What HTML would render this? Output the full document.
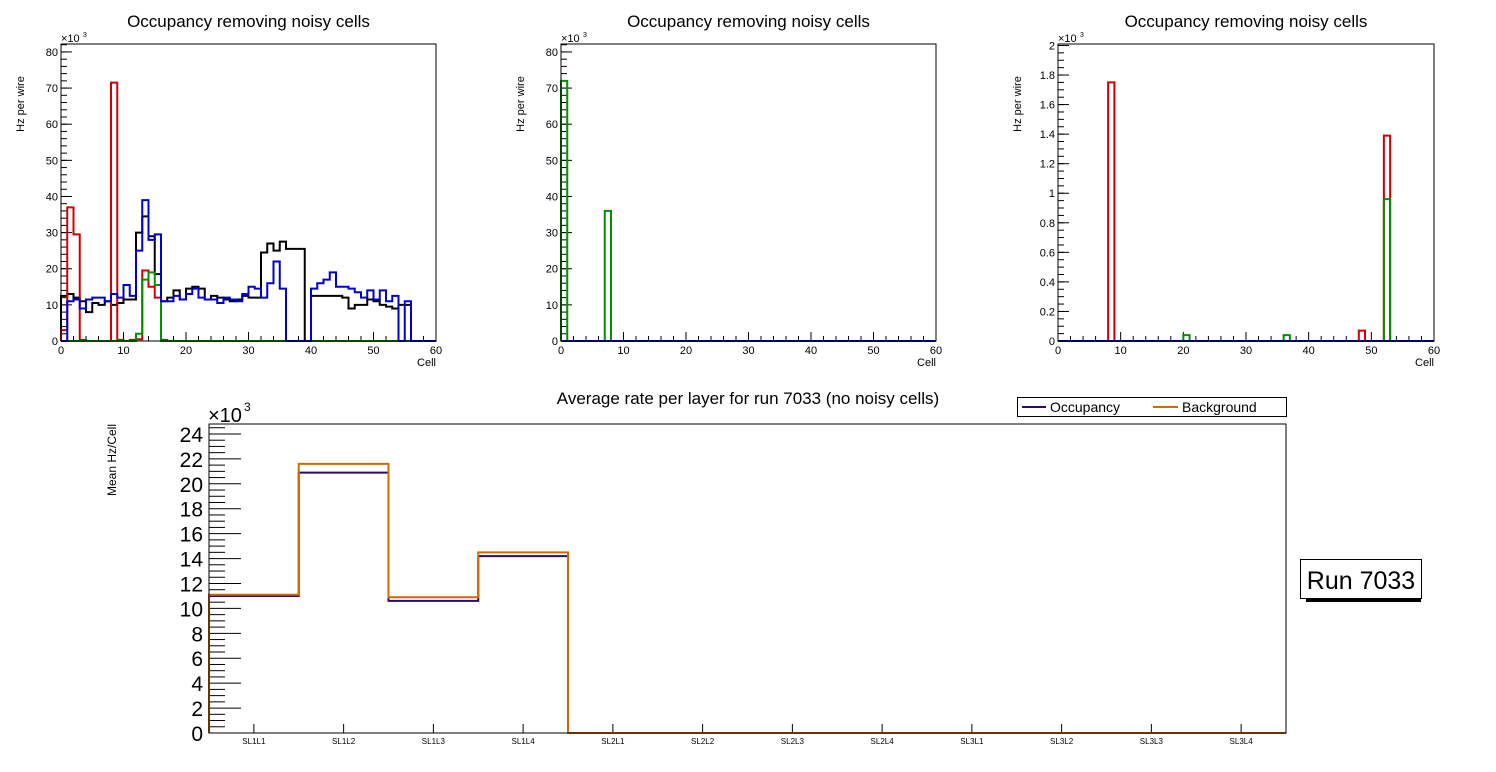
<!DOCTYPE html>
<html><head><meta charset="utf-8"><style>
body{margin:0;background:#fff;}
svg{display:block;font-family:"Liberation Sans",sans-serif;}
</style></head><body>
<svg id="c" width="1496" height="772"></svg>
<script>
// Panel 1 data (x10^3 Hz per wire), 60 cells
const p1Black=[12.5,13,12,11,8,10.5,10,11,10,10.5,11.5,11.5,30,34.5,29,18.5,11,12,14,11.5,14.5,15,14.5,11.5,12.5,12,11.5,11,11.5,12.5,12,12,24.5,27,25,27.5,25.5,25.5,25.5,0,12.5,12.5,12.5,12.5,12.5,12,9,10,10,11.5,11,10,9.5,9,10,10,0,0,0,0];
const p1Blue=[0,11,11.5,9,11.5,12,12,11,13,12,15.5,12.5,25,39,28,29.5,11,11,12.5,11.5,13,14.5,12,11.5,11.5,10.5,12,11.5,11,13,15,14.5,12,16,22,14.5,0,0,0,0,14.5,16,17,19,15,15,14.5,13.5,12,14,11.5,14,11,12.5,0,11,0,0,0,0];
const p1Red=[3,37,29.5,0.3,0,0,0,0,71.5,0.3,0,0.3,0.5,19.5,15,12,0.3,0,0,0,0,0,0,0,0,0,0,0,0,0,0,0,0,0,0,0,0,0,0,0,0,0,0,0,0,0,0,0,0,0,0,0,0,0,0,0,0,0,0,0];
const p1Green=[0,0,0,0,0,0,0,0,0,0,0,0,2,17,19,15.5,0,0,0,0,0,0,0,0,0,0,0,0,0,0,0,0,0,0,0,0,0,0,0,0,0,0,0,0,0,0,0,0,0,0,0,0,0,0,0,0,0,0,0,0];
// Panel 2 data
const p2Green=[72,0,0,0,0,0,0,36,0,0,0,0,0,0,0,0,0,0,0,0,0,0,0,0,0,0,0,0,0,0,0,0,0,0,0,0,0,0,0,0,0,0,0,0,0,0,0,0,0,0,0,0,0,0,0,0,0,0,0,0];
const p2Blue=new Array(60).fill(0);
// Panel 3 data
const p3Red=[0,0,0,0,0,0,0,0,1.75,0,0,0,0,0,0,0,0,0,0,0,0,0,0,0,0,0,0,0,0,0,0,0,0,0,0,0,0,0,0,0,0,0,0,0,0,0,0,0,0.07,0,0,0,1.39,0,0,0,0,0,0,0];
const p3Green=[0,0,0,0,0,0,0,0,0,0,0,0,0,0,0,0,0,0,0,0,0.04,0,0,0,0,0,0,0,0,0,0,0,0,0,0,0,0.04,0,0,0,0,0,0,0,0,0,0,0,0,0,0,0,0.96,0,0,0,0,0,0,0];
const p3Blue=new Array(60).fill(0);
const p1Ticks=[0,10,20,30,40,50,60,70,80];
const p3Ticks=[0,0.2,0.4,0.6,0.8,1,1.2,1.4,1.6,1.8,2];
const xTicks=[0,10,20,30,40,50,60];
// Bottom chart
const layers=["SL1L1","SL1L2","SL1L3","SL1L4","SL2L1","SL2L2","SL2L3","SL2L4","SL3L1","SL3L2","SL3L3","SL3L4"];
const occupancy=[11,20.9,10.6,14.2,0,0,0,0,0,0,0,0];
const background=[11.1,21.6,10.9,14.5,0,0,0,0,0,0,0,0];
const bTicks=[0,2,4,6,8,10,12,14,16,18,20,22,24];

const svg=document.getElementById('c');
const NS='http://www.w3.org/2000/svg';
function mk(tag,attrs,parent){const e=document.createElementNS(NS,tag);for(const k in attrs)e.setAttribute(k,attrs[k]);(parent||svg).appendChild(e);return e;}
function txt(s,attrs,parent){const e=mk('text',attrs,parent);e.textContent=s;return e;}

function stepPath(vals,sx,sy){
  let d='M'+sx(0)+','+sy(0);
  for(let i=0;i<vals.length;i++){d+=' L'+sx(i)+','+sy(vals[i])+' L'+sx(i+1)+','+sy(vals[i]);}
  d+=' L'+sx(vals.length)+','+sy(0);
  return d;
}

function panel(x0,x1,y0,y1,ymax,yTicks,minorStep,series,name,fmt){
  const g=mk('g',{});
  
  
  const sx=v=>x0+(x1-x0)*v/60;
  const sy=v=>y1-(y1-y0)*v/ymax;
  const t=txt('Occupancy removing noisy cells',{x:(x0+x1)/2,y:27,'font-size':17,'text-anchor':'middle'},g);
  
  const yl=txt('Hz per wire',{transform:`translate(${x0-37},${y0+60}) rotate(-90)`,'font-size':11,'text-anchor':'middle'},g);
  
  const xl=txt('Cell',{x:x1,y:366,'font-size':11,'text-anchor':'end'},g);
  
  const ex=txt('×10',{x:x0,y:y0-2,'font-size':11},g);
  
  txt('3',{x:x0+22,y:y0-7,'font-size':7},g);
  // ticks
  for(const v of yTicks){
    mk('line',{x1:x0,x2:x0+11,y1:sy(v),y2:sy(v),stroke:'#000'},g);
    const l=txt(fmt(v),{x:x0-3,y:sy(v)+4,'font-size':11,'text-anchor':'end'},g);
    
  }
  for(let v=0;v<=ymax;v+=minorStep){mk('line',{x1:x0,x2:x0+6,y1:sy(v),y2:sy(v),stroke:'#000'},g);}
  for(let v=0;v<=60;v+=2){mk('line',{x1:sx(v),x2:sx(v),y1:y1,y2:y1-(v%10==0?9:5),stroke:'#000'},g);}
  for(const v of xTicks){
    const l=txt(String(v),{x:sx(v),y:y1+13,'font-size':11,'text-anchor':'middle'},g);
    
  }
  for(const s of series){
    const p=mk('path',{d:stepPath(s.v,sx,sy),fill:'none',stroke:s.c,'stroke-width':2},g);
    
  }
  mk('rect',{x:x0,y:y0,width:x1-x0,height:y1-y0,fill:'none',stroke:'#000'},g);
}
const f1=v=>String(v);
panel(61,436,44,341,82.2,p1Ticks,2,[{v:p1Black,c:'#000',n:'black-series'},{v:p1Red,c:'#d00000',n:'red-series'},{v:p1Green,c:'#009000',n:'green-series'},{v:p1Blue,c:'#0000d0',n:'blue-series'}],'panel-1',f1);
panel(561,936,44,341,82.2,p1Ticks,2,[{v:p2Green,c:'#009000',n:'green-series'},{v:p2Blue,c:'#0000d0',n:'blue-series'}],'panel-2',f1);
panel(1058,1434,44,341,2.01,p3Ticks,0.05,[{v:p3Red,c:'#d00000',n:'red-series'},{v:p3Green,c:'#009000',n:'green-series'},{v:p3Blue,c:'#0000d0',n:'blue-series'}],'panel-3',f1);

// Bottom chart
(function(){
  const x0=209,x1=1286,y0=424,y1=733,ymax=24.8;
  const n=layers.length;
  const sx=i=>x0+(x1-x0)*i/n;
  const sy=v=>y1-(y1-y0)*v/ymax;
  const g=mk('g',{});
  
  
  const t=txt('Average rate per layer for run 7033 (no noisy cells)',{x:748,y:404,'font-size':17,'text-anchor':'middle'},g);
  
  const yl=txt('Mean Hz/Cell',{transform:`translate(116,460) rotate(-90)`,'font-size':12,'text-anchor':'middle'},g);
  
  txt('×10',{x:208,y:422,'font-size':20},g);
  txt('3',{x:244,y:411,'font-size':12},g);
  for(let v=0;v<=ymax;v+=0.5){mk('line',{x1:x0,x2:x0+(v%2==0?32:16),y1:sy(v),y2:sy(v),stroke:'#000'},g);}
  for(const v of bTicks){
    const l=txt(String(v),{x:x0-6,y:sy(v)+8,'font-size':21,'text-anchor':'end'},g);
    
  }
  for(let i=0;i<n;i++){
    const cx=(sx(i)+sx(i+1))/2;
    mk('line',{x1:cx,x2:cx,y1:y1,y2:y1-9,stroke:'#000'},g);
    const l=txt(layers[i],{x:cx,y:y1+11,'font-size':8,'text-anchor':'middle'},g);
    
  }
  const po=mk('path',{d:stepPath(occupancy,sx,sy),fill:'none',stroke:'#2a0a6a','stroke-width':2},g);
  
  const pb=mk('path',{d:stepPath(background,sx,sy),fill:'none',stroke:'#d06a00','stroke-width':2},g);
  
  mk('rect',{x:x0,y:y0,width:x1-x0,height:y1-y0,fill:'none',stroke:'#000'},g);
  // legend
  const lg=mk('g',{});
  
  
  mk('rect',{x:1017.5,y:397.5,width:269,height:19,fill:'#fff',stroke:'#000'},lg);
  mk('line',{x1:1022,x2:1046,y1:407,y2:407,stroke:'#2a0a6a','stroke-width':2},lg);
  const e1=txt('Occupancy',{x:1050,y:412,'font-size':14},lg);
  
  mk('line',{x1:1153,x2:1178,y1:407,y2:407,stroke:'#d06a00','stroke-width':2},lg);
  const e2=txt('Background',{x:1182,y:412,'font-size':14},lg);
  
  // run box
  const rb=mk('g',{});
  
  
  mk('rect',{x:1306,y:598,width:115,height:4,fill:'#000'},rb);
  mk('rect',{x:1300.5,y:559.5,width:121,height:39,fill:'#fff',stroke:'#000'},rb);
  txt('Run 7033',{x:1361,y:589,'font-size':25,'text-anchor':'middle'},rb);
})();
</script>
</body></html>
